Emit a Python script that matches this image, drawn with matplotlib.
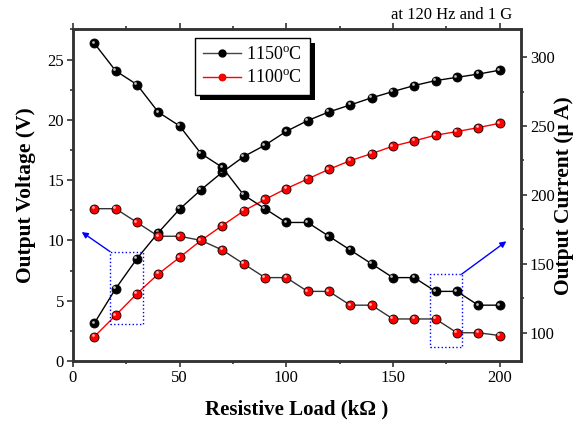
import numpy as np
import matplotlib
matplotlib.use('Agg')
import matplotlib.pyplot as plt
from matplotlib.ticker import MultipleLocator
import matplotlib.transforms as mtrans

plt.rcParams['font.family'] = 'Liberation Serif'
plt.rcParams['mathtext.fontset'] = 'custom'
plt.rcParams['mathtext.rm'] = 'Liberation Serif'

load = [10, 20, 30, 40, 50, 60, 70, 80, 90, 100,
        110, 120, 130, 140, 150, 160, 170, 180, 190, 200]
v_1150 = [3.13, 6.0, 8.49, 10.65, 12.6, 14.2, 15.66, 16.95, 17.9, 19.05,
          19.94, 20.66, 21.24, 21.83, 22.35, 22.85, 23.26, 23.53, 23.8, 24.12]
v_1100 = [2.02, 3.79, 5.59, 7.22, 8.6, 10.0, 11.23, 12.45, 13.4, 14.3,
          15.1, 15.9, 16.62, 17.2, 17.82, 18.26, 18.73, 19.03, 19.36, 19.72]
i_1150 = [310, 290, 280, 260, 250, 230, 220, 200, 190, 180,
          180, 170, 160, 150, 140, 140, 130, 130, 120, 120]
i_1100 = [190, 190, 180, 170, 170, 167, 160, 150, 140, 140,
          130, 130, 120, 120, 110, 110, 110, 100, 100, 98]

fig = plt.figure(figsize=(5.82, 4.21), dpi=100)
ax = fig.add_axes([0.1254, 0.1425, 0.7696, 0.7875])
ax2 = ax.twinx()


def balls(a, x, y, face, line):
    a.plot(x, y, '-', color=line, lw=1.0, zorder=2)
    a.plot(x, y, 'o', ms=6.5, mfc=face, mec='black', mew=0.6, zorder=3)
    # little highlight to fake the shaded spheres
    off = mtrans.ScaledTranslation(-1.2/72, 1.2/72, fig.dpi_scale_trans)
    hl = '#bbbbbb' if face == 'black' else '#ffb0b0'
    a.plot(x, y, 'o', ms=2.0, mfc=hl, mec='none', zorder=4,
           transform=a.transData + off)


balls(ax, load, v_1150, 'black', 'black')
balls(ax, load, v_1100, '#ff0000', '#ff0000')
balls(ax2, load, i_1150, 'black', 'black')
balls(ax2, load, i_1100, '#ff0000', '#333333')

ax.set_xlim(0, 210)
ax.set_ylim(0, 27.5)
ax2.set_ylim(79.5, 320)

ax.xaxis.set_major_locator(MultipleLocator(50))
ax.xaxis.set_minor_locator(MultipleLocator(25))
ax.yaxis.set_major_locator(MultipleLocator(5))
ax.yaxis.set_minor_locator(MultipleLocator(2.5))
ax2.yaxis.set_major_locator(MultipleLocator(50))
ax2.yaxis.set_minor_locator(MultipleLocator(25))

for a in (ax, ax2):
    for s in a.spines.values():
        s.set_linewidth(1.8)
        s.set_color('#333333')
    a.tick_params(which='both', direction='out', labelsize=12, width=1.2,
                  color='#333333', pad=2.5)
    a.tick_params(which='major', length=4)
    a.tick_params(which='minor', length=2.5)
ax.tick_params(which='both', top=True, right=False)

ax.set_xlabel('Resistive Load (k\u03a9 )', fontsize=15, fontweight='bold')
ax.xaxis.set_label_coords(0.5, -0.115)
ax.set_ylabel('Output Voltage (V)', fontsize=15.5, fontweight='bold')
ax.yaxis.set_label_coords(-0.082, 0.5)
ax2.set_ylabel('Output Current (\u03bc A)', fontsize=15.5, fontweight='bold')
ax2.yaxis.set_label_coords(1.074, 0.5)

fig.text(0.88, 0.965, 'at 120 Hz and 1 G', ha='right', va='center',
         fontsize=12)

# dotted boxes and arrows
ax.add_patch(plt.Rectangle((17.4, 3.1), 15.3, 5.97, fill=False,
                           ls=':', lw=1.0, ec='blue', zorder=5))
ax.annotate('', xy=(4.1, 10.7), xytext=(17.4, 9.07),
            arrowprops=dict(arrowstyle='-|>', color='blue', lw=1.0,
                            mutation_scale=9, shrinkA=0, shrinkB=0))
ax.add_patch(plt.Rectangle((167.2, 1.19), 15.0, 6.0, fill=False,
                           ls=':', lw=1.0, ec='blue', zorder=5))
ax.annotate('', xy=(203.2, 9.93), xytext=(182.2, 7.2),
            arrowprops=dict(arrowstyle='-|>', color='blue', lw=1.0,
                            mutation_scale=9, shrinkA=0, shrinkB=0))

# legend with a solid drop shadow
h1, = ax.plot([], [], '-o', color='#444444', ms=5, mfc='black', mec='black',
              lw=1.0)
h2, = ax.plot([], [], '-o', color='red', ms=5, mfc='#ff0000', mec='#cc0000',
              mew=0.6, lw=1.0)
leg = ax2.legend([h1, h2], ['1150$^{\\rm o}$C', '1100$^{\\rm o}$C'],
                 loc='upper left', bbox_to_anchor=(0.272, 0.974),
                 borderaxespad=0, fontsize=13, frameon=True, fancybox=False,
                 handlelength=2.1, handletextpad=0.3, borderpad=0.45,
                 labelspacing=0.35, framealpha=1)
leg.get_frame().set_edgecolor('black')
leg.get_frame().set_linewidth(1.0)
leg.set_zorder(10)

fig.canvas.draw()
bb = leg.get_window_extent()
shadow = plt.Rectangle((bb.x0 + 5, bb.y0 - 5), bb.width, bb.height,
                       transform=None, fc='black', ec='none', zorder=9)
ax2.add_artist(shadow)

fig.savefig('out.png', dpi=100)
